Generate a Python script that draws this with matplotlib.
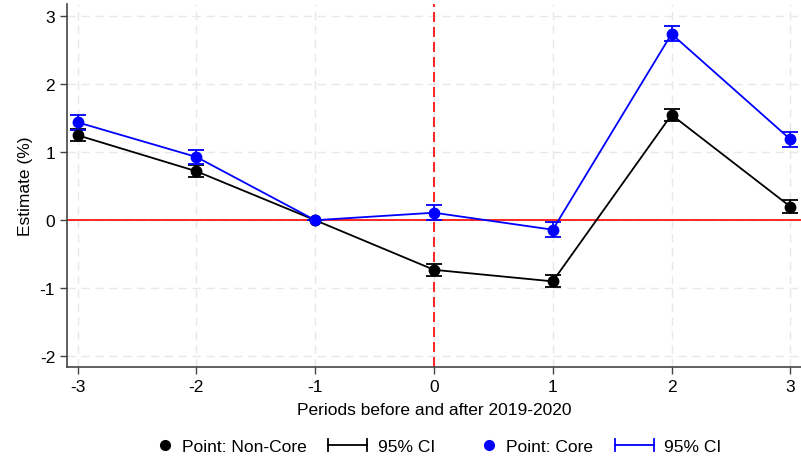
import matplotlib
matplotlib.use("Agg")
import matplotlib.pyplot as plt
from matplotlib.lines import Line2D
from matplotlib.legend_handler import HandlerBase
import numpy as np

plt.rcParams['font.family'] = ['Liberation Sans', 'DejaVu Sans']

periods = [-3, -2, -1, 0, 1, 2, 3]
noncore_est = [1.25, 0.72, 0.0, -0.73, -0.90, 1.55, 0.20]
noncore_lo = [1.16, 0.63, 0.0, -0.82, -0.99, 1.46, 0.11]
noncore_hi = [1.34, 0.81, 0.0, -0.64, -0.81, 1.64, 0.29]
core_est = [1.44, 0.93, 0.0, 0.11, -0.14, 2.74, 1.19]
core_lo = [1.33, 0.82, 0.0, 0.01, -0.25, 2.63, 1.08]
core_hi = [1.55, 1.03, 0.0, 0.22, -0.03, 2.86, 1.30]
yticks = [-2, -1, 0, 1, 2, 3]

fig = plt.figure(figsize=(8.01, 4.60), dpi=100)
ax = fig.add_axes([0.0836, 0.2, 0.9164, 0.789])

ax.grid(True, color='#e8e8e8', linestyle=(0, (6, 4)), linewidth=1.0)
ax.set_axisbelow(True)
ax.axhline(0, color='red', lw=1.2, zorder=1.5)
ax.axvline(0, color='red', lw=1.2, linestyle=(0, (6, 3)), zorder=1.5)

for est, lo, hi, col in [(noncore_est, noncore_lo, noncore_hi, 'black'),
                          (core_est, core_lo, core_hi, '#0000ff')]:
    est = np.array(est); lo = np.array(lo); hi = np.array(hi)
    ax.plot(periods, est, color=col, lw=1.3, zorder=3)
    ax.errorbar(periods, est, yerr=[est - lo, hi - est], fmt='none', ecolor=col,
                elinewidth=1.3, capsize=5.5, capthick=1.3, zorder=3)
    ax.plot(periods, est, 'o', color=col, markersize=7.5, zorder=4)

ax.set_xlim(-3.09, 3.09)
ax.set_ylim(-2.16, 3.18)
ax.set_xticks(periods)
ax.set_yticks(yticks)
ax.set_xticklabels([str(p) for p in periods])
ax.set_yticklabels([str(t) for t in yticks])
ax.tick_params(labelsize=12.5, color='#444444', length=5, width=1)
ax.spines['right'].set_visible(False)
ax.spines['top'].set_visible(False)
for s in ['left', 'bottom']:
    ax.spines[s].set_color('#444444')
    ax.spines[s].set_linewidth(1.2)
ax.set_xlabel('Periods before and after 2019-2020', fontsize=12.5, labelpad=6)
ax.set_ylabel('Estimate (%)', fontsize=12.5, labelpad=5)


class CIHandler(HandlerBase):
    def create_artists(self, legend, orig, xd, yd, width, height, fontsize, trans):
        c = orig.get_color()
        y = yd + height / 2
        cap = height * 0.5
        l1 = Line2D([xd, xd + width], [y, y], color=c, lw=1.3, transform=trans)
        l2 = Line2D([xd, xd], [y - cap, y + cap], color=c, lw=1.3, transform=trans)
        l3 = Line2D([xd + width, xd + width], [y - cap, y + cap], color=c, lw=1.3, transform=trans)
        return [l1, l2, l3]


class DotHandler(HandlerBase):
    def create_artists(self, legend, orig, xd, yd, width, height, fontsize, trans):
        c = orig.get_color()
        y = yd + height / 2
        m = Line2D([xd + width - 4.5], [y], marker='o', color=c, linestyle='none',
                   markersize=7, transform=trans)
        return [m]


h1 = Line2D([], [], color='black')
h2 = Line2D([], [], color='black')
h3 = Line2D([], [], color='#0000ff')
h4 = Line2D([], [], color='#0000ff')
fig.legend([h1, h2, h3, h4], ['Point: Non-Core', '95% CI', 'Point: Core', '95% CI'],
           handler_map={h1: DotHandler(), h2: CIHandler(), h3: DotHandler(), h4: CIHandler()},
           loc='center', bbox_to_anchor=(0.533, 0.027), ncol=4, frameon=False,
           fontsize=12.5, handlelength=2.25, columnspacing=1.25, handletextpad=0.6)

fig.savefig('out.png', dpi=100)
